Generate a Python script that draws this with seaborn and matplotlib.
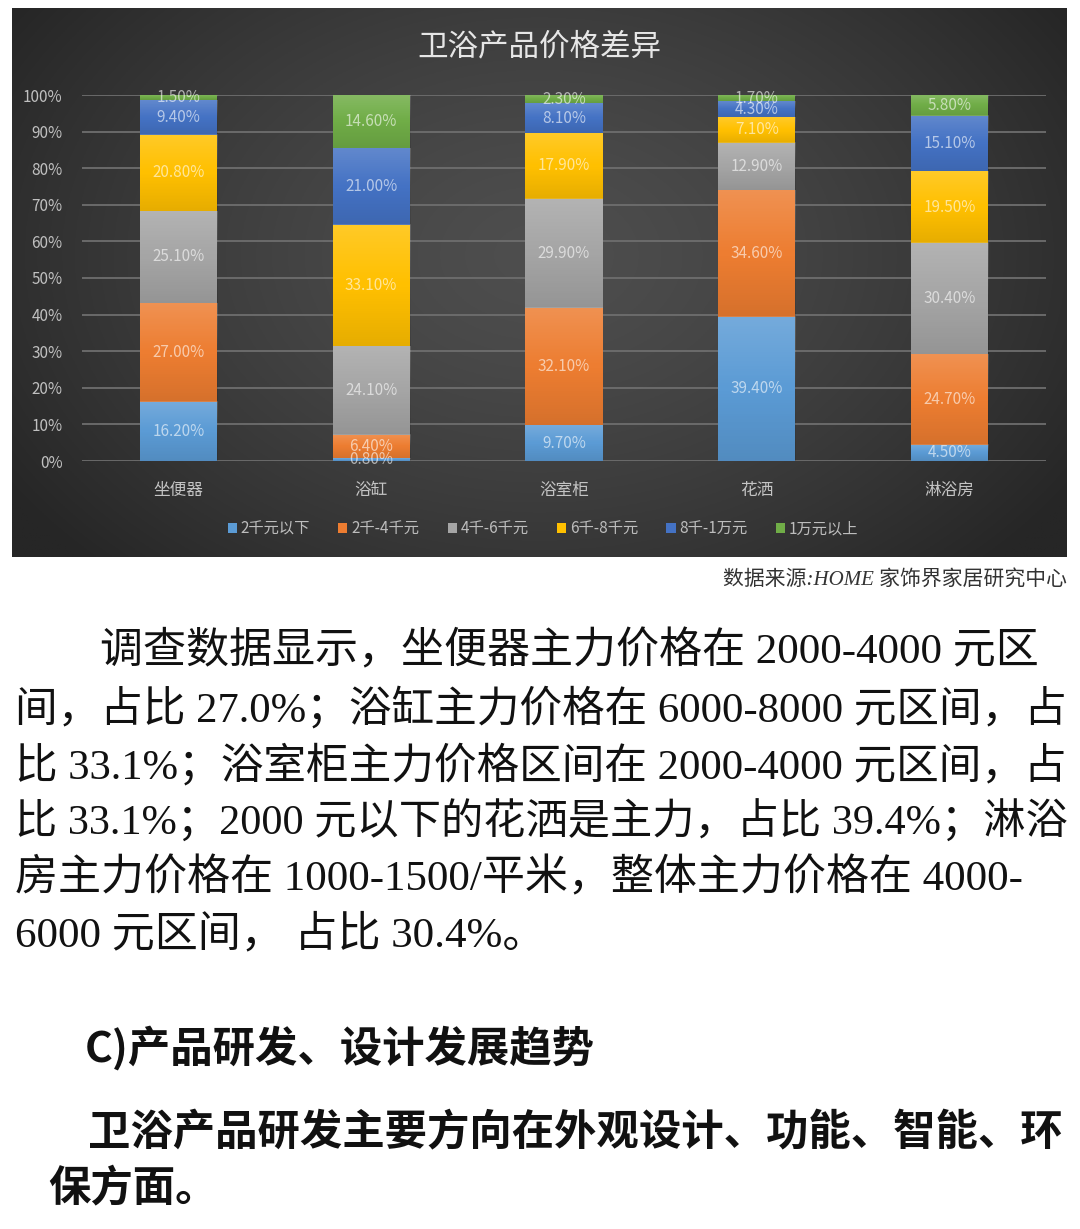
import numpy as np
import pandas as pd
import matplotlib
matplotlib.use("Agg")
import matplotlib.pyplot as plt
import seaborn as sns
from matplotlib.patches import Patch

# ---------------- data ----------------
categories = ["坐便器", "浴缸", "浴室柜", "花洒", "淋浴房"]
price_ranges = ["2千元以下", "2千-4千元", "4千-6千元", "6千-8千元", "8千-1万元", "1万元以上"]
share_below_2k = [16.2, 0.8, 9.7, 39.4, 4.5]
share_2k_4k = [27.0, 6.4, 32.1, 34.6, 24.7]
share_4k_6k = [25.1, 24.1, 29.9, 12.9, 30.4]
share_6k_8k = [20.8, 33.1, 17.9, 7.1, 19.5]
share_8k_10k = [9.4, 21.0, 8.1, 4.3, 15.1]
share_above_10k = [1.5, 14.6, 2.3, 1.7, 5.8]
ytick_values = list(range(0, 101, 10))

chart_title = "卫浴产品价格差异"
source_note = "数据来源:HOME 家饰界家居研究中心"
body_lines = [
    "调查数据显示，坐便器主力价格在 2000-4000 元区",
    "间，占比 27.0%；浴缸主力价格在 6000-8000 元区间，占",
    "比 33.1%；浴室柜主力价格区间在 2000-4000 元区间，占",
    "比 33.1%；2000 元以下的花洒是主力，占比 39.4%；淋浴",
    "房主力价格在 1000-1500/平米，整体主力价格在 4000-",
    "6000 元区间， 占比 30.4%。",
]
heading = "C)产品研发、设计发展趋势"
para2_lines = ["卫浴产品研发主要方向在外观设计、功能、智能、环", "保方面。"]

colors = ["#5B9BD5", "#ED7D31", "#A5A5A5", "#FFC000", "#4472C4", "#70AD47"]

series = [share_below_2k, share_2k_4k, share_4k_6k, share_6k_8k, share_8k_10k, share_above_10k]
rows = []
for r, vals in zip(price_ranges, series):
    for c, v in zip(categories, vals):
        rows.append({"品类": c, "区间": r, "占比": v})
df = pd.DataFrame(rows)
df["区间"] = pd.Categorical(df["区间"], categories=price_ranges, ordered=True)
df["品类"] = pd.Categorical(df["品类"], categories=categories, ordered=True)
df = df.sort_values(["品类", "区间"])
df["累计"] = df.groupby("品类", observed=True)["占比"].cumsum()

# ---------------- figure ----------------
CJK = ["Noto Sans CJK SC", "DejaVu Sans"]
plt.rcParams["font.family"] = CJK
W, H = 1080, 1229
fig = plt.figure(figsize=(W / 100, H / 100), dpi=100)
fig.patch.set_facecolor("white")

def fx(px):
    return px / W

def fy(py):
    return 1 - py / H

# dark panel with radial gradient
bg = fig.add_axes([fx(12), fy(557), fx(1055), 549 / H], zorder=0)
ny, nx = 300, 600
yy, xx = np.mgrid[0:1:ny * 1j, 0:1:nx * 1j]
d = np.sqrt(((xx - 0.5) / 0.6) ** 2 + ((yy - 0.55) / 0.8) ** 2)
v = (0x4e - (0x4e - 0x26) * np.clip(d, 0, 1) ** 1.4) / 255.0
img = np.dstack([v, v, v])
bg.imshow(img, extent=[0, 1, 0, 1], origin="lower", aspect="auto")
bg.set_axis_off()

ax = fig.add_axes([fx(82), fy(461), fx(1046) - fx(82), 366 / H], zorder=2)
ax.set_facecolor("none")

BAR_W = 0.4
for lvl, col in reversed(list(zip(price_ranges, colors))):
    sub = df[df["区间"] == lvl]
    sns.barplot(data=sub, x="品类", y="累计", order=categories, color=col,
                saturation=1, width=BAR_W, errorbar=None, ax=ax, zorder=3,
                linewidth=0)

# subtle vertical shading in each segment (light top, darker bottom)
shade = np.zeros((64, 1, 4))
tt = np.linspace(0, 1, 64)  # 0 = bottom, 1 = top
shade[:, 0, :3] = np.where(tt[:, None] > 0.5, 1.0, 0.0)
shade[:, 0, 3] = np.where(tt > 0.5, (tt - 0.5) * 2 * 0.16, (0.5 - tt) * 2 * 0.10)

# segment labels + shading
for i, c in enumerate(categories):
    sub = df[df["品类"] == c]
    for _, row in sub.iterrows():
        top = row["累计"]
        bot = top - row["占比"]
        ax.imshow(shade, extent=[i - BAR_W / 2, i + BAR_W / 2, bot, top],
                  origin="lower", aspect="auto", zorder=4, interpolation="bilinear")
        ax.text(i, top - row["占比"] / 2, f"{row['占比']:.2f}%",
                ha="center", va="center", fontsize=11, color="white",
                alpha=0.6, zorder=5)

ax.set_xlim(-0.5, 4.5)
ax.set_ylim(0, 100)
ax.set_yticks(ytick_values)
ax.set_yticklabels([f"{t}%" for t in ytick_values])
ax.yaxis.grid(True, color="#6e6e6e", linewidth=1.3)
ax.xaxis.grid(False)
ax.set_axisbelow(True)
for s in ax.spines.values():
    s.set_visible(False)
ax.tick_params(axis="y", length=0, pad=14, labelsize=11, labelcolor="#c0c0c0")
ax.tick_params(axis="x", length=0, pad=15, labelsize=12, labelcolor="#c4c4c4")
ax.set_xlabel("")
ax.set_ylabel("")

# legend
handles = [Patch(facecolor=c, edgecolor="none") for c in colors]
leg = fig.legend(handles, price_ranges, loc="center", bbox_to_anchor=(fx(543), fy(529)),
                 ncol=6, frameon=False, fontsize=11, handlelength=0.6, handleheight=0.6,
                 handletextpad=0.25, columnspacing=1.85, labelcolor="#bdbdbd")

# title
fig.text(fx(539), fy(47), chart_title, ha="center", va="center", fontsize=22,
         color="#e6e6e6")

# source note
fig.text(fx(1067), fy(580), source_note, ha="right", va="center", fontsize=15,
         color="#333333", style="italic", family=["Liberation Serif", "Noto Sans CJK SC"])

# body text (shrink a line slightly if it would run past the right margin)
renderer = fig.canvas.get_renderer()
RIGHT = 1066
body_family = ["Liberation Serif", "Noto Sans CJK SC"]
body_y = [652, 709, 766, 822, 879, 935]
for k, (line, y) in enumerate(zip(body_lines, body_y)):
    x = 100 if k == 0 else 15
    t = fig.text(fx(x), fy(y), line, ha="left", va="center", fontsize=31,
                 color="#111111", family=body_family)
    wpx = t.get_window_extent(renderer).width
    if x + wpx > RIGHT:
        t.set_fontsize(31 * (RIGHT - x) / wpx)

fig.text(fx(85), fy(1048), heading, ha="left", va="center", fontsize=30.5,
         color="#111111", fontweight="bold", family=CJK)
fig.text(fx(88), fy(1133), para2_lines[0], ha="left", va="center", fontsize=30.5,
         color="#111111", fontweight="bold", family=CJK)
fig.text(fx(48), fy(1188), para2_lines[1], ha="left", va="center", fontsize=30.5,
         color="#111111", fontweight="bold", family=CJK)

fig.savefig("out.png", dpi=100, facecolor="white")
